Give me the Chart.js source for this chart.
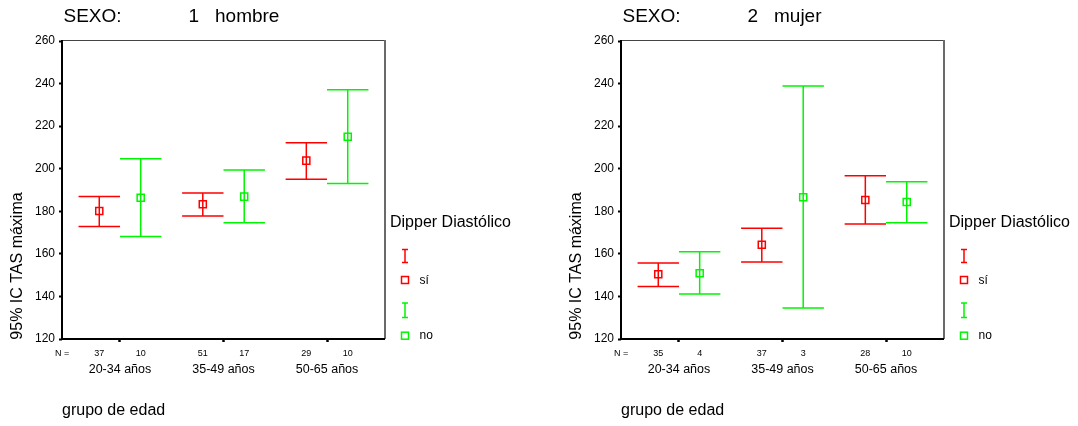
<!DOCTYPE html>
<html><head><meta charset="utf-8">
<script src="https://cdn.jsdelivr.net/npm/chart.js@4.4.1/dist/chart.umd.min.js"></script>
<style>
html,body{margin:0;padding:0;background:#fff;width:1078px;height:426px;overflow:hidden;}
canvas{position:absolute;top:0;}
</style></head><body>
<canvas id="c1" width="559" height="426" style="left:0"></canvas>
<canvas id="c2" width="519" height="426" style="left:559px"></canvas>
<script>
// ---- data ----
const categories = ['20-34 años', '35-49 años', '50-65 años'];
const yTickValues = [120, 140, 160, 180, 200, 220, 240, 260];
const seriesLabels = ['sí', 'no'];

const hombreSiMean = [180.1, 183.3, 203.8];
const hombreSiLow  = [172.9, 177.8, 195.0];
const hombreSiHigh = [186.9, 188.6, 212.2];
const hombreNoMean = [186.4, 186.9, 215.0];
const hombreNoLow  = [168.1, 174.6, 193.0];
const hombreNoHigh = [204.7, 199.4, 237.1];
const hombreSiN = [37, 51, 29];
const hombreNoN = [10, 17, 10];

const mujerSiMean = [150.4, 164.3, 185.3];
const mujerSiLow  = [144.7, 156.2, 174.0];
const mujerSiHigh = [155.7, 172.0, 196.7];
const mujerNoMean = [150.9, 186.6, 184.4];
const mujerNoLow  = [141.1, 134.6, 174.6];
const mujerNoHigh = [161.0, 238.9, 193.9];
const mujerSiN = [35, 37, 28];
const mujerNoN = [4, 3, 10];

// ---- style ----
const RED = 'rgb(255,0,0)';
const GREEN = 'rgb(0,245,0)';
const FONT = "'Liberation Sans', Arial, Helvetica, sans-serif";
Chart.defaults.font.family = FONT;
Chart.defaults.color = '#000';

function makePanel(id, W, sexNum, sexLabel, si, no) {
  const series = [
    {label: seriesLabels[0], color: RED, off: -0.2, ...si},
    {label: seriesLabels[1], color: GREEN, off: 0.2, ...no}
  ];
  const plugin = {
    id: 'spss' + id,
    beforeDatasetsDraw(chart) {
      const {ctx, scales: {x, y}} = chart;
      const half = x.getPixelForValue(0.2) - x.getPixelForValue(0);
      ctx.save();
      chart.data.datasets.forEach(ds => {
        ctx.strokeStyle = ds.borderColor;
        ctx.lineWidth = 1.5;
        ds.data.forEach(p => {
          const px = x.getPixelForValue(p.x);
          const yl = y.getPixelForValue(p.low), yh = y.getPixelForValue(p.high);
          ctx.beginPath();
          ctx.moveTo(px, yh); ctx.lineTo(px, yl);
          ctx.moveTo(px - half, yh); ctx.lineTo(px + half, yh);
          ctx.moveTo(px - half, yl); ctx.lineTo(px + half, yl);
          ctx.stroke();
        });
      });
      ctx.restore();
    },
    afterDraw(chart) {
      const {ctx, chartArea: a, scales: {x}} = chart;
      ctx.save();
      // frame
      ctx.fillStyle = '#444';
      ctx.fillRect(a.left, a.top - 1, a.right - a.left, 1);
      ctx.fillStyle = '#6a6a6a';
      ctx.fillRect(a.right - 1, a.top - 1, 2, a.bottom - a.top + 1);
      ctx.fillStyle = '#000';
      ctx.fillRect(a.left - 1, a.top - 1, 2, a.bottom - a.top + 2);
      ctx.fillRect(a.left - 1, a.bottom - 1, a.right - a.left + 1, 2);

      ctx.fillStyle = '#000';
      ctx.textBaseline = 'alphabetic';
      // title
      ctx.font = '19px ' + FONT;
      ctx.textAlign = 'left';
      ctx.fillText('SEXO:', 63.5, 21.5);
      ctx.fillText(sexNum, 188.5, 21.5);
      ctx.fillText(sexLabel, 215, 21.5);
      // y title
      ctx.save();
      ctx.translate(21.5, 266);
      ctx.rotate(-Math.PI / 2);
      ctx.font = '16px ' + FONT;
      ctx.textAlign = 'center';
      ctx.fillText('95% IC TAS máxima', 0, 0);
      ctx.restore();
      // x title
      ctx.font = '16px ' + FONT;
      ctx.textAlign = 'left';
      ctx.fillText('grupo de edad', 62, 415);
      // N row
      ctx.font = '9px ' + FONT;
      ctx.textAlign = 'left';
      ctx.fillText('N =', 55, 356);
      ctx.textAlign = 'center';
      series.forEach(s => {
        s.n.forEach((n, i) => {
          ctx.fillText(String(n), x.getPixelForValue(i + 1 + s.off), 356);
        });
      });
      // legend
      ctx.textAlign = 'left';
      ctx.font = '16px ' + FONT;
      ctx.fillText('Dipper Diastólico', a.right + 5, 227);
      const lx = a.right + 20;
      const rows = [
        {c: RED, t: series[0].label, i0: 249.5, i1: 262.5, sq: 280, ty: 284},
        {c: GREEN, t: series[1].label, i0: 303, i1: 317.5, sq: 335.7, ty: 338.5}
      ];
      rows.forEach(r => {
        ctx.strokeStyle = r.c;
        ctx.lineWidth = 1.5;
        ctx.beginPath();
        ctx.moveTo(lx, r.i0); ctx.lineTo(lx, r.i1);
        ctx.moveTo(lx - 3, r.i0); ctx.lineTo(lx + 3, r.i0);
        ctx.moveTo(lx - 3, r.i1); ctx.lineTo(lx + 3, r.i1);
        ctx.stroke();
        ctx.strokeRect(lx - 3.5, r.sq - 3.5, 7, 7);
        ctx.fillStyle = '#000';
        ctx.font = '12px ' + FONT;
        ctx.fillText(r.t, lx + 14.5, r.ty);
      });
      ctx.restore();
    }
  };

  return new Chart(document.getElementById(id), {
    type: 'scatter',
    data: {
      datasets: series.map(s => ({
        label: s.label,
        data: categories.map((c, i) => ({x: i + 1 + s.off, y: s.mean[i], low: s.low[i], high: s.high[i]})),
        pointStyle: 'rect',
        pointRadius: 5,
        pointHoverRadius: 5,
        pointBorderWidth: 1.5,
        borderWidth: 1.5,
        borderColor: s.color,
        backgroundColor: 'rgba(0,0,0,0)',
        showLine: false
      }))
    },
    options: {
      responsive: false,
      animation: false,
      events: [],
      layout: {padding: {left: 0, top: 41, right: W - 385, bottom: 42}},
      plugins: {legend: {display: false}, tooltip: {enabled: false}, title: {display: false}},
      scales: {
        x: {
          type: 'linear', min: 0.44, max: 3.56,
          afterBuildTicks: s => { s.ticks = categories.map((c, i) => ({value: i + 1})); },
          afterFit: s => { s.height = 45; },
          ticks: {autoSkip: false, maxRotation: 0, minRotation: 0, padding: 20, font: {size: 12.5}, color: '#000',
                  callback: v => categories[Math.round(v) - 1]},
          grid: {drawOnChartArea: false, drawTicks: true, tickLength: 3, tickWidth: 2.5, tickColor: '#000'},
          border: {display: false}
        },
        y: {
          min: 120, max: 260,
          afterBuildTicks: s => { s.ticks = yTickValues.map(v => ({value: v})); },
          afterFit: s => { s.width = 62; },
          ticks: {padding: 4, font: {size: 12}, color: '#000'},
          grid: {drawOnChartArea: false, drawTicks: true, tickLength: 3, tickWidth: 2, tickColor: '#000'},
          border: {display: false}
        }
      }
    },
    plugins: [plugin]
  });
}

makePanel('c1', 559, '1', 'hombre',
  {mean: hombreSiMean, low: hombreSiLow, high: hombreSiHigh, n: hombreSiN},
  {mean: hombreNoMean, low: hombreNoLow, high: hombreNoHigh, n: hombreNoN});
makePanel('c2', 519, '2', 'mujer',
  {mean: mujerSiMean, low: mujerSiLow, high: mujerSiHigh, n: mujerSiN},
  {mean: mujerNoMean, low: mujerNoLow, high: mujerNoHigh, n: mujerNoN});
</script></body></html>
